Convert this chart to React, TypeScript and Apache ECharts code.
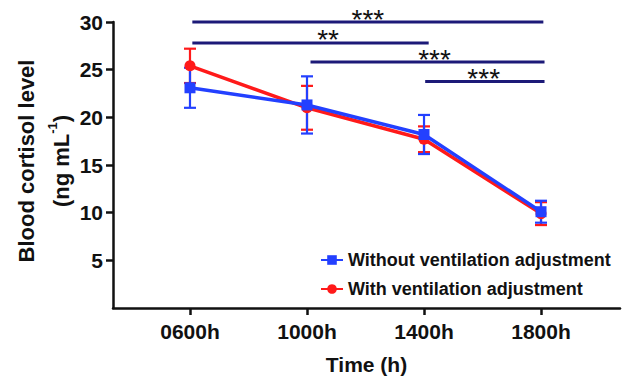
import React, { useEffect, useRef } from "react";
import * as echarts from "echarts";

const timeLabels = ["0600h", "1000h", "1400h", "1800h"];
const xPos = [0, 1, 2, 3];
const withoutMean = [23.1, 21.3, 18.2, 10.1];
const withoutErr = [2.1, 3.0, 2.05, 1.15];
const withMean = [25.4, 21.0, 17.7, 9.9];
const withErr = [1.8, 2.3, 1.35, 1.2];
// significance brackets: [x1, x2, y, labelX, label]
const sigBars: [number, number, number, number, string][] = [
  [0.02, 3.02, 30.0, 1.52, "***"],
  [0.02, 2.04, 27.8, 1.18, "**"],
  [1.03, 3.03, 25.8, 2.09, "***"],
  [2.01, 3.03, 23.75, 2.51, "***"],
];
const yTicks = [5, 10, 15, 20, 25, 30];

const BLUE = "#2340ff";
const RED = "#ff1a1a";
const NAVY = "#1c1a78";
const FONT = "'Liberation Sans', Arial, sans-serif";

function errData(mean: number[], err: number[]) {
  return mean.map((m, i) => [xPos[i], m - err[i], m + err[i]]);
}

function errorSeries(name: string, color: string, data: number[][], z: number) {
  return {
    type: "custom",
    name: name + "_err",
    z,
    data,
    renderItem: (params: any, api: any) => {
      const x = api.value(0);
      const lo = api.coord([x, api.value(1)]);
      const hi = api.coord([x, api.value(2)]);
      const cw = 6;
      const st = { stroke: color, lineWidth: 2.2 };
      return {
        type: "group",
        children: [
          { type: "line", shape: { x1: lo[0], y1: lo[1], x2: hi[0], y2: hi[1] }, style: st },
          { type: "line", shape: { x1: lo[0] - cw, y1: lo[1], x2: lo[0] + cw, y2: lo[1] }, style: st },
          { type: "line", shape: { x1: hi[0] - cw, y1: hi[1], x2: hi[0] + cw, y2: hi[1] }, style: st },
        ],
      };
    },
    tooltip: { show: false },
  };
}

export default function App() {
  const ref = useRef<HTMLDivElement>(null);
  useEffect(() => {
    if (!ref.current) return;
    const chart = echarts.init(ref.current, null, { renderer: "svg" });
    const option: any = {
      animation: false,
      backgroundColor: "#ffffff",
      textStyle: { fontFamily: FONT },
      grid: { left: 113, top: 22, right: 10, bottom: 70, containLabel: false },
      xAxis: {
        type: "value",
        min: -0.658,
        max: 3.675,
        splitLine: { show: false },
        axisLine: { show: true, onZero: false, lineStyle: { color: "#111", width: 2.5 } },
        axisTick: { show: true, length: 7, lineStyle: { color: "#111", width: 2.5 }, customValues: xPos },
        axisLabel: {
          show: true,
          customValues: xPos,
          formatter: (v: number) => timeLabels[Math.round(v)] ?? "",
          fontSize: 21,
          fontWeight: "bold",
          color: "#111",
          fontFamily: FONT,
          margin: 13,
        },
        name: "Time (h)",
        nameLocation: "middle",
        nameGap: 46,
        nameTextStyle: { fontSize: 21, fontWeight: "bold", color: "#111", fontFamily: FONT },
      },
      yAxis: {
        type: "value",
        min: 0,
        max: 30,
        interval: 5,
        splitLine: { show: false },
        axisLine: { show: true, onZero: false, lineStyle: { color: "#111", width: 2.5 } },
        axisTick: { show: true, length: 7, lineStyle: { color: "#111", width: 2.5 }, customValues: yTicks },
        axisLabel: {
          show: true,
          customValues: yTicks,
          fontSize: 21,
          fontWeight: "bold",
          color: "#111",
          fontFamily: FONT,
          margin: 10,
        },
      },
      legend: {
        data: ["Without ventilation adjustment", "With ventilation adjustment"],
        orient: "vertical",
        left: 315,
        top: 246,
        itemWidth: 22,
        itemHeight: 12,
        itemGap: 11,
        textStyle: { fontSize: 18, fontWeight: "bold", color: "#111", fontFamily: FONT },
      },
      graphic: [
        {
          type: "text",
          x: 26,
          y: 161,
          rotation: Math.PI / 2,
          style: {
            text: "Blood cortisol level",
            fontSize: 22,
            fontWeight: "bold",
            fontFamily: FONT,
            fill: "#111",
            align: "center",
            verticalAlign: "middle",
          },
        },
        {
          type: "text",
          x: 59,
          y: 161,
          rotation: Math.PI / 2,
          style: {
            text: "{a|(ng mL}{s|-1}{a|)}",
            fontFamily: FONT,
            fill: "#111",
            align: "center",
            verticalAlign: "middle",
            rich: {
              a: { fontSize: 22, fontWeight: "bold", fontFamily: FONT, fill: "#111", lineHeight: 26, verticalAlign: "bottom" },
              s: { fontSize: 13, fontWeight: "bold", fontFamily: FONT, fill: "#111", lineHeight: 26, verticalAlign: "top" },
            },
          },
        },
      ],
      series: [
        errorSeries("with", RED, errData(withMean, withErr), 2),
        errorSeries("without", BLUE, errData(withoutMean, withoutErr), 3),
        {
          type: "line",
          name: "With ventilation adjustment",
          data: withMean.map((v, i) => [xPos[i], v]),
          color: RED,
          lineStyle: { width: 3.5, color: RED },
          itemStyle: { color: RED },
          symbol: "circle",
          symbolSize: 11,
          z: 4,
        },
        {
          type: "line",
          name: "Without ventilation adjustment",
          data: withoutMean.map((v, i) => [xPos[i], v]),
          color: BLUE,
          lineStyle: { width: 3.5, color: BLUE },
          itemStyle: { color: BLUE },
          symbol: "rect",
          symbolSize: 11,
          z: 5,
        },
        {
          type: "custom",
          name: "sig",
          z: 6,
          clip: false,
          data: sigBars.map((b) => [b[0], b[1], b[2], b[3]]),
          renderItem: (params: any, api: any) => {
            const i = params.dataIndex;
            const p1 = api.coord([api.value(0), api.value(2)]);
            const p2 = api.coord([api.value(1), api.value(2)]);
            const pl = api.coord([api.value(3), api.value(2)]);
            return {
              type: "group",
              children: [
                {
                  type: "line",
                  shape: { x1: p1[0], y1: p1[1], x2: p2[0], y2: p2[1] },
                  style: { stroke: NAVY, lineWidth: 3 },
                },
                {
                  type: "text",
                  x: pl[0],
                  y: pl[1] - 3,
                  style: {
                    text: sigBars[i][4],
                    fontSize: 28,
                    fontFamily: FONT,
                    fill: "#111",
                    align: "center",
                    verticalAlign: "middle",
                  },
                },
              ],
            };
          },
        },
      ],
    };
    chart.setOption(option);
    return () => chart.dispose();
  }, []);
  return <div ref={ref} style={{ width: 630, height: 380, position: "absolute", left: 0, top: 0 }} />;
}
